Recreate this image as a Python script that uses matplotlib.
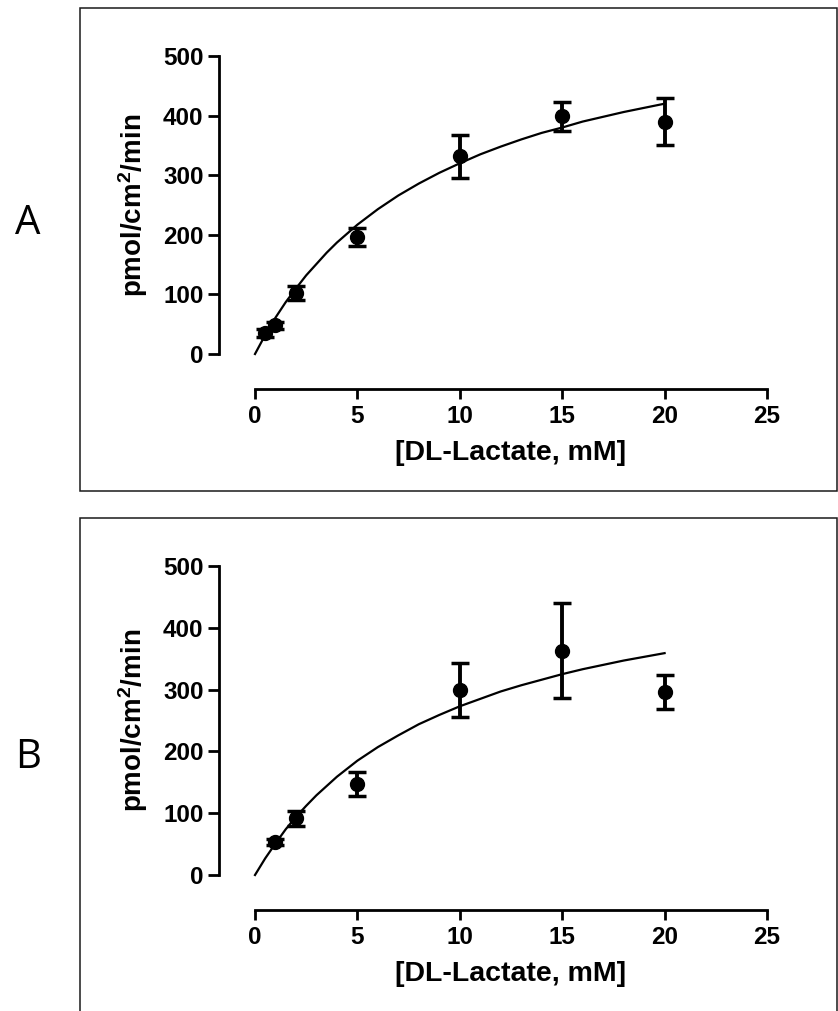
import matplotlib
matplotlib.use("Agg")
import matplotlib.pyplot as plt
from matplotlib.patches import Rectangle

W, H = 838, 1011

plt.rcParams["font.family"] = ["Liberation Sans", "DejaVu Sans"]
plt.rcParams["mathtext.fontset"] = "custom"
plt.rcParams["mathtext.bf"] = "Liberation Sans:bold"
plt.rcParams["mathtext.rm"] = "Liberation Sans:bold"
plt.rcParams["mathtext.default"] = "bf"

# A: uptake vs DL-lactate (mean +/- SEM) and the saturation fit
lactate_a = [0.5, 1, 2, 5, 10, 15, 20]
rate_a = [35, 48, 102, 197, 332, 399, 390]
sem_a = [7, 6, 12, 15, 36, 24, 39]
fit_x_a = [0, 0.5, 1, 1.5, 2, 2.5, 3, 3.5, 4, 4.5, 5, 6, 7, 8, 9, 10,
           11, 12, 13, 14, 15, 16, 17, 18, 19, 20]
fit_y_a = [0, 32, 61, 87, 110, 132, 151, 170, 187, 202, 217, 243, 266, 286, 304, 320,
           335, 348, 360, 371, 380, 390, 398, 406, 413, 420]

# B
lactate_b = [1, 2, 5, 10, 15, 20]
rate_b = [54, 92, 147, 299, 363, 296]
sem_b = [5, 12, 19, 44, 77, 27]
fit_x_b = [0, 0.5, 1, 1.5, 2, 2.5, 3, 3.5, 4, 4.5, 5, 6, 7, 8, 9, 10,
           11, 12, 13, 14, 15, 16, 17, 18, 19, 20]
fit_y_b = [0, 27, 51, 74, 94, 112, 129, 144, 159, 172, 185, 207, 226, 244, 259, 273,
           285, 297, 307, 316, 325, 333, 340, 347, 353, 359]

x_ticks = [0, 5, 10, 15, 20, 25]
y_ticks = [0, 100, 200, 300, 400, 500]

fig = plt.figure(figsize=(W / 100, H / 100), dpi=100)


def px(x, y):
    return x / W, 1 - y / H


def panel(letter, top, bottom, box_top, box_bottom, letter_y, x, y, err, fx, fy):
    # frame around the panel
    x0, y0 = px(80, box_bottom)
    x1, y1 = px(836.5, box_top)
    fig.add_artist(Rectangle((x0, y0), x1 - x0, y1 - y0, transform=fig.transFigure,
                             fill=False, ec="#1a1a1a", lw=1.1, clip_on=False))

    ax = fig.add_axes([255 / W, 1 - bottom / H, 512 / W, (bottom - top) / H])
    ax.plot(fx, fy, color="black", lw=1.6, clip_on=False, zorder=2)
    ax.errorbar(x, y, yerr=err, fmt="o", color="black", ms=10, elinewidth=2.8,
                capsize=6.5, capthick=2.5, clip_on=False, zorder=3)

    ax.set_xlim(0, 25)
    ax.set_ylim(0, 500)
    ax.set_xticks(x_ticks)
    ax.set_yticks(y_ticks)
    for s in ("top", "right"):
        ax.spines[s].set_visible(False)
    ax.spines["left"].set_position(("outward", 26))
    ax.spines["bottom"].set_position(("outward", 25))
    for s in ("left", "bottom"):
        ax.spines[s].set_linewidth(2)
    ax.tick_params(axis="y", length=7.9, width=2, pad=3.2, labelsize=17.5)
    ax.tick_params(axis="x", length=7.2, width=2, pad=4.5, labelsize=17.5)
    for lab in ax.get_xticklabels() + ax.get_yticklabels():
        lab.set_fontweight("bold")

    lx, ly = px(133, (top + bottom) / 2)
    fig.text(lx, ly, r"pmol/cm$^{\mathbf{2}}$/min", rotation=90, ha="center", va="center",
             fontsize=20, fontweight="bold")
    tx, ty = px(511, bottom + 99)
    fig.text(tx, ty, "[DL-Lactate, mM]", ha="center", va="center",
             fontsize=20.5, fontweight="bold")
    gx, gy = px(28, letter_y)
    fig.text(gx, gy, letter, ha="center", va="center", fontsize=29,
             family=["Open Sans", "DejaVu Sans"])


panel("A", 56, 354, 8.5, 490.5, 224, lactate_a, rate_a, sem_a, fit_x_a, fit_y_a)
panel("B", 566, 875, 518, 1020, 758, lactate_b, rate_b, sem_b, fit_x_b, fit_y_b)

fig.savefig("out.png", dpi=100)
